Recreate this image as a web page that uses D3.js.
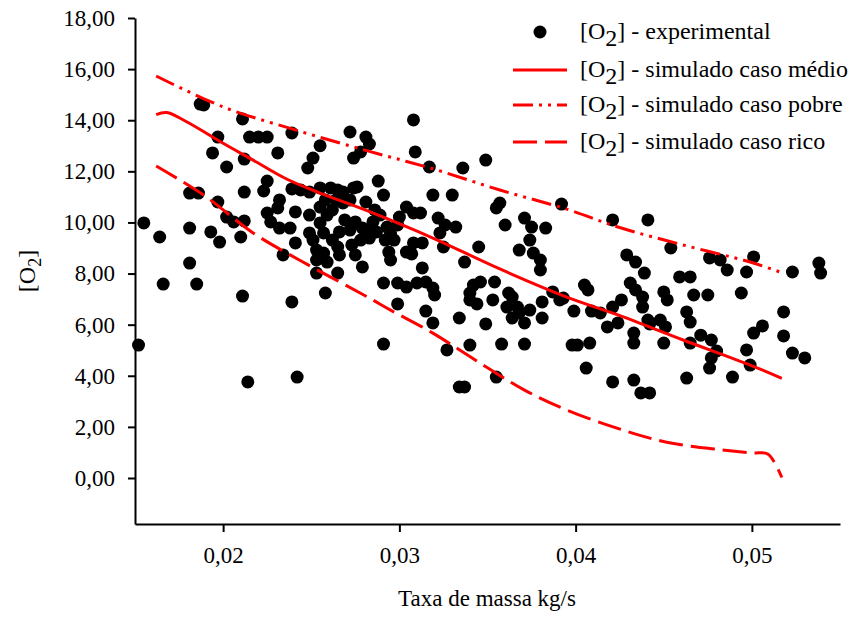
<!DOCTYPE html>
<html>
<head>
<meta charset="utf-8">
<script src="https://cdn.jsdelivr.net/npm/d3@7"></script>
<style>
  body { margin: 0; background: #fff; }
  svg { display: block; font-family: "Liberation Serif", "Times New Roman", serif; }
  .axis text { font-family: "Liberation Serif", "Times New Roman", serif; font-size: 23px; fill: #000; }
  .axis path, .axis line { stroke: #000; stroke-width: 2; }
</style>
</head>
<body>
<svg id="chart" width="850" height="617"></svg>
<script>
// experimental points: mass rate (kg/s) and [O2]
const expMass = [
  0.0155, 0.0164, 0.0166, 0.0181, 0.0181, 0.0186, 0.0181, 0.0185, 0.0187, 0.0189,
  0.0197, 0.0194, 0.0202, 0.0197, 0.0193, 0.0198, 0.0202, 0.0206, 0.0210, 0.0212,
  0.0211, 0.0212, 0.0215, 0.0220, 0.0225, 0.0212, 0.0231, 0.0225, 0.0223, 0.0225,
  0.0232, 0.0231, 0.0227, 0.0232, 0.0238, 0.0234, 0.0239, 0.0239, 0.0244, 0.0249,
  0.0241, 0.0241, 0.0211, 0.0239, 0.0152, 0.0214, 0.0242, 0.0251, 0.0248, 0.0249,
  0.0249, 0.0251, 0.0253, 0.0253, 0.0253, 0.0255, 0.0255, 0.0308, 0.0272, 0.0281,
  0.0283, 0.0278, 0.0274, 0.0309, 0.0317, 0.0336, 0.0349, 0.0255, 0.0261, 0.0265,
  0.0268, 0.0274, 0.0288, 0.0291, 0.0281, 0.0319, 0.0330, 0.0304, 0.0308, 0.0312,
  0.0286, 0.0289, 0.0357, 0.0355, 0.0360, 0.0371, 0.0375, 0.0383, 0.0374, 0.0368,
  0.0376, 0.0380, 0.0380, 0.0345, 0.0337, 0.0322, 0.0326, 0.0332, 0.0323, 0.0325,
  0.0308, 0.0313, 0.0300, 0.0299, 0.0293, 0.0287, 0.0295, 0.0282, 0.0262, 0.0259,
  0.0255, 0.0257, 0.0262, 0.0268, 0.0272, 0.0276, 0.0275, 0.0279, 0.0283, 0.0257,
  0.0259, 0.0265, 0.0266, 0.0275, 0.0279, 0.0294, 0.0295, 0.0304, 0.0307, 0.0313,
  0.0265, 0.0258, 0.0291, 0.0299, 0.0304, 0.0310, 0.0315, 0.0319, 0.0320, 0.0299,
  0.0315, 0.0319, 0.0334, 0.0342, 0.0346, 0.0340, 0.0340, 0.0344, 0.0354, 0.0353,
  0.0362, 0.0364, 0.0361, 0.0367, 0.0364, 0.0368, 0.0374, 0.0371, 0.0381, 0.0381,
  0.0349, 0.0387, 0.0393, 0.0399, 0.0405, 0.0407, 0.0409, 0.0414, 0.0291, 0.0327,
  0.0340, 0.0358, 0.0371, 0.0398, 0.0401, 0.0408, 0.0392, 0.0421, 0.0441, 0.0454,
  0.0429, 0.0434, 0.0439, 0.0476, 0.0482, 0.0501, 0.0486, 0.0497, 0.0523, 0.0538,
  0.0539, 0.0431, 0.0434, 0.0438, 0.0438, 0.0459, 0.0465, 0.0450, 0.0452, 0.0475,
  0.0467, 0.0494, 0.0391, 0.0426, 0.0421, 0.0418, 0.0424, 0.0441, 0.0442, 0.0448,
  0.0451, 0.0463, 0.0465, 0.0471, 0.0477, 0.0480, 0.0477, 0.0476, 0.0433, 0.0433,
  0.0450, 0.0465, 0.0406, 0.0421, 0.0433, 0.0437, 0.0442, 0.0463, 0.0489, 0.0497,
  0.0499, 0.0501, 0.0506, 0.0518, 0.0518, 0.0523, 0.0530, 0.0355, 0.0334, 0.0337,
  0.0269, 0.0272, 0.0278, 0.0285, 0.0292, 0.0297, 0.0266, 0.0273, 0.0258, 0.0264
];
const expO2 = [
  9.98, 9.43, 7.59, 9.78, 11.15, 11.15, 8.41, 7.59, 14.63, 14.60,
  13.34, 12.72, 12.17, 10.80, 9.63, 9.23, 10.21, 10.02, 9.43, 10.06,
  14.05, 12.48, 13.34, 13.34, 13.34, 11.19, 12.72, 11.62, 11.23, 10.37,
  10.88, 10.57, 10.02, 9.78, 9.78, 8.73, 13.50, 11.31, 11.27, 11.19,
  10.41, 9.20, 7.12, 6.89, 5.20, 3.76, 3.95, 12.52, 12.13, 10.29,
  9.59, 9.31, 8.92, 8.53, 8.02, 13.00, 10.60, 14.01, 13.54, 13.34,
  13.07, 12.76, 12.52, 12.76, 12.17, 12.13, 12.44, 11.35, 11.35, 11.27,
  11.19, 11.35, 11.62, 11.07, 10.80, 11.07, 11.07, 10.60, 10.37, 10.37,
  10.49, 10.29, 10.76, 10.57, 9.90, 10.17, 9.82, 9.78, 9.31, 8.92,
  8.80, 8.53, 8.14, 9.04, 8.45, 10.17, 9.90, 9.82, 9.59, 9.04,
  9.20, 9.20, 10.21, 9.90, 9.82, 9.63, 9.59, 9.70, 10.49, 10.29,
  9.98, 9.59, 9.31, 10.76, 10.88, 11.39, 10.02, 9.78, 9.39, 8.80,
  8.45, 9.04, 8.73, 8.73, 8.26, 8.84, 8.53, 8.84, 8.77, 8.22,
  8.02, 7.24, 7.63, 7.63, 7.47, 7.63, 7.67, 7.43, 7.16, 6.81,
  6.53, 6.07, 6.26, 7.55, 7.67, 7.24, 6.97, 6.81, 7.67, 6.97,
  7.24, 7.08, 6.69, 6.69, 6.26, 6.46, 6.57, 6.07, 6.89, 6.26,
  6.03, 7.28, 7.04, 6.53, 7.55, 7.36, 6.53, 6.46, 5.24, 5.01,
  5.20, 5.24, 5.24, 5.20, 5.20, 5.28, 10.72, 10.10, 10.10, 9.00,
  8.73, 8.45, 8.02, 8.61, 8.53, 8.65, 8.14, 8.06, 8.06, 8.41,
  8.02, 7.63, 7.36, 7.08, 6.69, 7.87, 7.87, 7.28, 6.97, 7.16,
  7.16, 7.24, 6.97, 6.97, 6.69, 5.91, 6.07, 6.18, 6.03, 6.18,
  5.91, 6.50, 6.10, 5.59, 5.40, 4.97, 4.70, 4.30, 5.67, 5.28,
  5.28, 5.28, 4.30, 3.76, 3.83, 3.33, 3.33, 3.91, 3.95, 5.01,
  4.42, 5.67, 5.95, 6.50, 5.56, 4.89, 4.70, 3.95, 3.56, 3.56,
  10.10, 9.70, 9.31, 10.02, 9.31, 9.31, 9.63, 9.12, 10.88, 10.88
];

// simulated curves
const medioMass = [0.0162, 0.0168, 0.0179, 0.0200, 0.0217, 0.0236, 0.0255, 0.0282, 0.0319, 0.0357, 0.0395, 0.0424, 0.0461, 0.0499, 0.0517];
const medioO2   = [14.22, 14.30, 13.95, 13.10, 12.44, 11.70, 11.15, 10.45, 9.39, 8.18, 7.08, 6.38, 5.40, 4.42, 3.90];

const pobreMass = [0.0162, 0.0200, 0.0241, 0.0282, 0.0319, 0.0357, 0.0395, 0.0424, 0.0461, 0.0499, 0.0516];
const pobreO2   = [15.73, 14.52, 13.62, 12.80, 12.10, 11.27, 10.52, 9.82, 9.12, 8.45, 8.06];

const ricoMass = [0.0162, 0.0189, 0.0217, 0.0244, 0.0282, 0.0295, 0.0319, 0.0343, 0.0371, 0.0395, 0.0423, 0.0451, 0.0483, 0.0500, 0.0509, 0.0517];
const ricoO2   = [12.21, 11.07, 9.59, 8.50, 7.08, 6.57, 5.67, 4.62, 3.44, 2.66, 1.96, 1.41, 1.10, 0.98, 0.94, 0.02];

const yTicks = [0, 2, 4, 6, 8, 10, 12, 14, 16, 18];
const xTicks = [0.02, 0.03, 0.04, 0.05];

const legendLabels = ["experimental", "simulado caso médio", "simulado caso pobre", "simulado caso rico"];

const svg = d3.select("#chart");
const margin = { left: 135, right: 10, top: 18, bottom: 93 };
const width = 850 - margin.left - margin.right;
const height = 617 - margin.top - margin.bottom;

const x = d3.scaleLinear().domain([0.015, 0.055]).range([0, width]);
const y = d3.scaleLinear().domain([-1.8, 18]).range([height, 0]);

const ptBR = d3.formatLocale({ decimal: ",", thousands: ".", grouping: [3], currency: ["", ""] });

const g = svg.append("g").attr("transform", `translate(${margin.left},${margin.top})`);

// axes
g.append("g")
  .attr("class", "axis")
  .attr("transform", `translate(0,${height})`)
  .call(d3.axisBottom(x).tickValues(xTicks).tickFormat(ptBR.format(".2f")).tickSize(8).tickSizeOuter(0).tickPadding(15));

g.append("g")
  .attr("class", "axis")
  .call(d3.axisLeft(y).tickValues(yTicks).tickFormat(ptBR.format(".2f")).tickSize(7).tickSizeOuter(0).tickPadding(13));

// dots
const pts = expMass.map((m, i) => ({ m, o: expO2[i] }));
g.append("g")
  .selectAll("circle")
  .data(pts)
  .join("circle")
  .attr("cx", d => x(d.m))
  .attr("cy", d => y(d.o))
  .attr("r", 6.5)
  .attr("fill", "#000");

// lines
const line = d3.line().x(d => x(d[0])).y(d => y(d[1])).curve(d3.curveCatmullRom.alpha(0.5));
const series = [
  { mass: medioMass, o2: medioO2, dash: null },
  { mass: pobreMass, o2: pobreO2, dash: "20,6,3,6,3,6" },
  { mass: ricoMass, o2: ricoO2, dash: "24,8" }
];
series.forEach(s => {
  g.append("path")
    .datum(s.mass.map((m, i) => [m, s.o2[i]]))
    .attr("d", line)
    .attr("fill", "none")
    .attr("stroke", "#ff0000")
    .attr("stroke-width", 3)
    .attr("stroke-dasharray", s.dash);
});

// legend
const legend = svg.append("g");
const rowY = [32, 70, 105, 142];
legendLabels.forEach((lab, i) => {
  const row = legend.append("g").attr("transform", `translate(0,${rowY[i]})`);
  if (i === 0) {
    row.append("circle").attr("cx", 540).attr("cy", 0).attr("r", 6.5).attr("fill", "#000");
  } else {
    row.append("line")
      .attr("x1", 513).attr("x2", 567).attr("y1", 0).attr("y2", 0)
      .attr("stroke", "#ff0000").attr("stroke-width", 3)
      .attr("stroke-dasharray", series[i - 1].dash);
  }
  const t = row.append("text").attr("x", 580).attr("y", 7).attr("font-size", 24);
  t.append("tspan").text("[O");
  t.append("tspan").attr("dy", 7).text("2");
  t.append("tspan").attr("dy", -7).text("] - " + lab);
});

// axis titles
svg.append("text")
  .attr("x", 487).attr("y", 606)
  .attr("text-anchor", "middle").attr("font-size", 23)
  .text("Taxa de massa kg/s");

const yt = svg.append("text")
  .attr("transform", `translate(35,${margin.top + height / 2}) rotate(-90)`)
  .attr("text-anchor", "middle").attr("font-size", 24);
yt.append("tspan").text("[O");
yt.append("tspan").attr("dy", 6).attr("font-size", 18).text("2");
yt.append("tspan").attr("dy", -6).text("]");
</script>
</body>
</html>
